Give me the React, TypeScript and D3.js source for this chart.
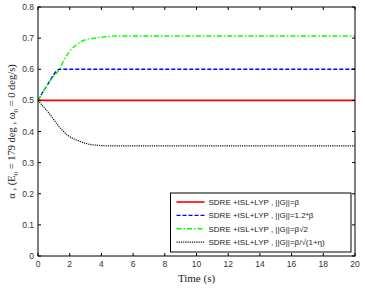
import * as d3 from "d3";

// time (s) and alpha samples for each gain setting
const redT = [0, 20];
const redV = [0.5, 0.5];

const blueT = [0, 0.63, 1.37, 20];
const blueV = [0.5, 0.553, 0.6, 0.6];

const greenT = [0, 0.3, 0.63, 1.0, 1.37, 1.6, 1.89, 2.32, 2.95, 3.58, 4.2, 5, 20];
const greenV = [0.5, 0.525, 0.553, 0.578, 0.601, 0.625, 0.65, 0.674, 0.694, 0.7, 0.704, 0.707, 0.707];

const blackT = [0, 0.3, 0.63, 1.26, 1.89, 2.52, 3.15, 3.7, 4.5, 20];
const blackV = [0.5, 0.482, 0.463, 0.42, 0.387, 0.371, 0.36, 0.356, 0.354, 0.354];

const legendLabels = [
  "SDRE +ISL+LYP  , ||G||=β",
  "SDRE +ISL+LYP  , ||G||=1.2*β",
  "SDRE +ISL+LYP  , ||G||=β√2",
  "SDRE +ISL+LYP  , ||G||=β/√(1+η)",
];

const xTicks = [0, 2, 4, 6, 8, 10, 12, 14, 16, 18, 20];
const yTicks = [0, 0.1, 0.2, 0.3, 0.4, 0.5, 0.6, 0.7, 0.8];

const series = [
  { t: redT, v: redV, color: "#ff0000", dash: "", width: 1.6 },
  { t: blueT, v: blueV, color: "#0000ff", dash: "4,2", width: 1.4 },
  { t: greenT, v: greenV, color: "#00ff00", dash: "5,2,1.5,2", width: 1.4 },
  { t: blackT, v: blackV, color: "#111111", dash: "1.2,1", width: 1.2 },
];

export default function App() {
  const width = 365;
  const height = 288;
  const margin = { top: 7, right: 10, bottom: 32, left: 38 };
  const x = d3.scaleLinear().domain([0, 20]).range([margin.left, width - margin.right]);
  const y = d3.scaleLinear().domain([0, 0.8]).range([height - margin.bottom, margin.top]);

  const line = d3
    .line<[number, number]>()
    .x((d) => x(d[0]))
    .y((d) => y(d[1]))
    .curve(d3.curveMonotoneX);

  const x0 = x(0), x1 = x(20), y0 = y(0), y1 = y(0.8);
  const tick = 3;
  const lg = { left: 170.5, top: 193, w: 180.5, h: 59, row: 13.4 };

  return (
    <svg
      width={width}
      height={height}
      style={{ position: "absolute", left: 0, top: 0, background: "#fff" }}
      fontFamily="Arial, 'Liberation Sans', sans-serif"
    >
      {/* curves */}
      {series.map((s, i) => (
        <path
          key={i}
          d={line(s.t.map((t, j) => [t, s.v[j]] as [number, number])) ?? ""}
          fill="none"
          stroke={s.color}
          strokeWidth={s.width}
          strokeDasharray={s.dash}
        />
      ))}

      {/* ticks on all four sides, pointing inward */}
      {xTicks.map((t) => (
        <g key={"x" + t}>
          <line x1={x(t)} x2={x(t)} y1={y0} y2={y0 - tick} stroke="#000" />
          <line x1={x(t)} x2={x(t)} y1={y1} y2={y1 + tick} stroke="#000" />
          <text x={x(t)} y={y0 + 11} textAnchor="middle" fontSize="8.5" fill="#333">
            {t}
          </text>
        </g>
      ))}
      {yTicks.map((t) => (
        <g key={"y" + t}>
          <line x1={x0} x2={x0 + tick} y1={y(t)} y2={y(t)} stroke="#000" />
          <line x1={x1} x2={x1 - tick} y1={y(t)} y2={y(t)} stroke="#000" />
          <text x={x0 - 4} y={y(t) + 3} textAnchor="end" fontSize="8.5" fill="#333">
            {t === 0 ? "0" : t.toFixed(1)}
          </text>
        </g>
      ))}

      {/* axes box */}
      <rect x={x0} y={y1} width={x1 - x0} height={y0 - y1} fill="none" stroke="#000" strokeWidth={1} />

      {/* legend */}
      <rect x={lg.left} y={lg.top} width={lg.w} height={lg.h} fill="#fff" stroke="#000" strokeWidth={1} />
      {series.map((s, i) => {
        const ly = lg.top + 9 + i * lg.row;
        return (
          <g key={"l" + i}>
            <line
              x1={lg.left + 6}
              x2={lg.left + 34}
              y1={ly}
              y2={ly}
              stroke={s.color}
              strokeWidth={s.width}
              strokeDasharray={s.dash}
            />
            <text x={lg.left + 38} y={ly + 3} fontSize="8" fill="#222">
              {legendLabels[i]}
            </text>
          </g>
        );
      })}

      {/* axis titles */}
      <text
        x={(x0 + x1) / 2}
        y={282}
        textAnchor="middle"
        fontSize="11"
        fontFamily="'Liberation Serif', 'Times New Roman', serif"
        fill="#222"
      >
        Time (s)
      </text>
      <text
        transform={`translate(15, ${(y0 + y1) / 2}) rotate(-90)`}
        textAnchor="middle"
        fontSize="10.5"
        fontFamily="'Liberation Serif', 'Times New Roman', serif"
        fill="#222"
      >
        α , (E<tspan dy="3" fontSize="7">0</tspan>
        <tspan dy="-3"> = 179 deg , ω</tspan>
        <tspan dy="3" fontSize="7">0</tspan>
        <tspan dy="-3"> = 0 deg/s)</tspan>
      </text>
    </svg>
  );
}
